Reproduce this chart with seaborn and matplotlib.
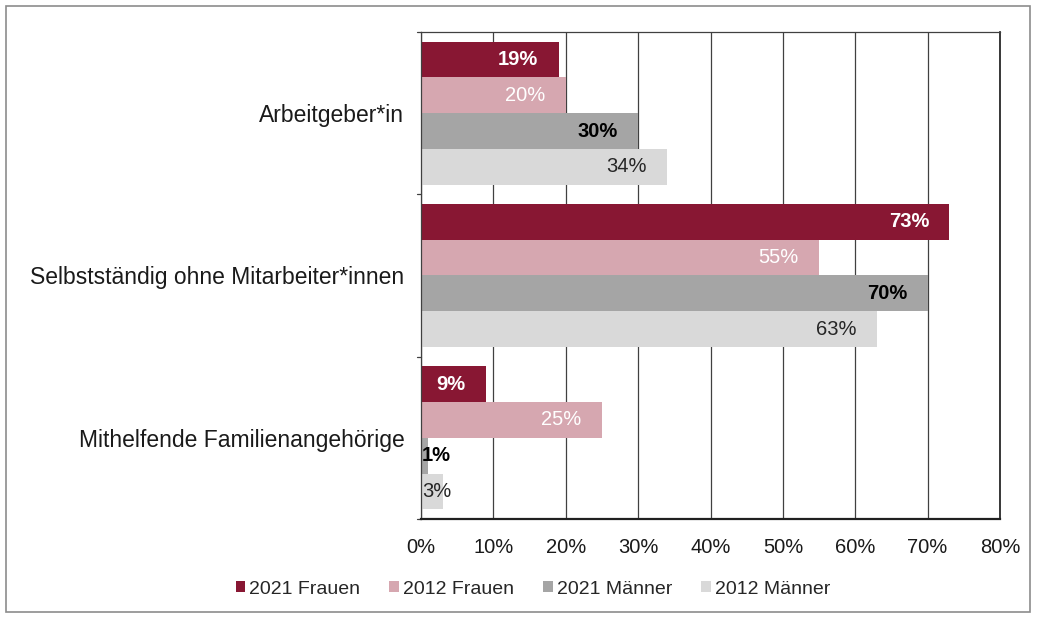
import matplotlib
matplotlib.use("Agg")
import matplotlib.pyplot as plt
import seaborn as sns
import pandas as pd
from matplotlib.patches import Rectangle

categories = ["Arbeitgeber*in", "Selbstständig ohne Mitarbeiter*innen", "Mithelfende Familienangehörige"]
series = ["2021 Frauen", "2012 Frauen", "2021 Männer", "2012 Männer"]
v_2021_frauen = [19, 73, 9]
v_2012_frauen = [20, 55, 25]
v_2021_maenner = [30, 70, 1]
v_2012_maenner = [34, 63, 3]
xticks = [0, 10, 20, 30, 40, 50, 60, 70, 80]

colors = ["#881733", "#D6A7B0", "#A5A5A5", "#D9D9D9"]
label_colors = ["white", "white", "black", "#262626"]
label_weights = ["bold", "normal", "bold", "normal"]

values = [v_2021_frauen, v_2012_frauen, v_2021_maenner, v_2012_maenner]
rows = []
for s, vals in zip(series, values):
    for c, v in zip(categories, vals):
        rows.append({"Kategorie": c, "Serie": s, "Wert": v})
df = pd.DataFrame(rows)

sns.set_theme(style="white")
plt.rcParams["font.family"] = ["Liberation Sans", "DejaVu Sans"]

fig = plt.figure(figsize=(10.4, 6.18), dpi=100)
ax = fig.add_axes([421/1040, 1-519/618, (1000-421)/1040, (519-32)/618])

sns.barplot(data=df, y="Kategorie", x="Wert", hue="Serie", order=categories,
            hue_order=series, palette=colors, orient="h", width=0.88,
            saturation=1, ax=ax, legend=False, edgecolor="none", linewidth=0)

ax.set_xlim(0, 80)
ax.set_ylim(2.5, -0.5)
ax.set_xticks(xticks)
ax.set_xticklabels([f"{t}%" for t in xticks], fontsize=14.5, color="#1a1a1a")
ax.set_xlabel("")
ax.set_ylabel("")
ax.tick_params(axis="y", labelsize=16.5, labelcolor="#1a1a1a", length=0, pad=12)
ax.tick_params(axis="x", length=0, pad=14)
ax.xaxis.grid(True, color="#404040", linewidth=0.9)
ax.set_axisbelow(True)
for side in ["left", "right", "top", "bottom"]:
    ax.spines[side].set_visible(True)
    ax.spines[side].set_color("#404040")
ax.spines["bottom"].set_linewidth(1.6)
ax.spines["bottom"].set_color("#202020")
ax.spines["right"].set_color("#202020")
ax.spines["left"].set_linewidth(0.9)
ax.spines["top"].set_linewidth(0.9)

# category separator ticks on left
for yb in [-0.5, 0.5, 1.5, 2.5]:
    ax.plot([-0.6, 0], [yb, yb], color="#404040", lw=0.9, clip_on=False)

# labels
for i, cont in enumerate(ax.containers):
    for bar, v in zip(cont, values[i]):
        yc = bar.get_y() + bar.get_height() / 2
        if v < 5:
            ax.text(0.1, yc, f"{v}%", ha="left", va="center", fontsize=14.5,
                    color="black" if i == 2 else "#262626", fontweight=label_weights[i])
        else:
            ax.text(v - 2.8, yc, f"{v}%", ha="right", va="center", fontsize=14.5,
                    color=label_colors[i], fontweight=label_weights[i])

# legend
handles = [Rectangle((0, 0), 1, 1, facecolor=c, edgecolor="none") for c in colors]
fig.legend(handles, series, loc="center", bbox_to_anchor=(533/1040, 1-589/618), ncol=4,
           frameon=False, fontsize=14, handlelength=0.5, handleheight=0.5,
           handletextpad=0.2, columnspacing=1.5)

# outer frame
fig.patches.append(Rectangle((6/1040, 1-612/618), 1024/1040, 606/618, transform=fig.transFigure,
                             fill=False, edgecolor="#8c8c8c", linewidth=1.2))

fig.savefig("out.png", dpi=100)
